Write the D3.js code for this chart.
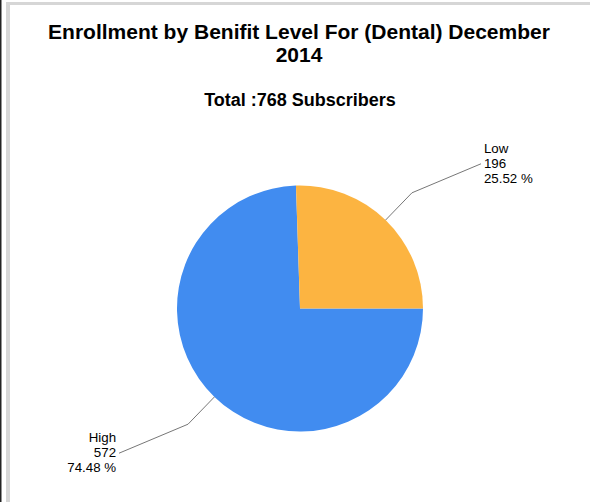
<!DOCTYPE html>
<html>
<head>
<meta charset="utf-8">
<script src="https://cdn.jsdelivr.net/npm/d3@7"></script>
<style>
  body { margin: 0; background: #fff; }
  #container { width: 590px; height: 502px; }
  text { font-family: "Liberation Sans", Arial, sans-serif; }
</style>
</head>
<body>
<div id="container"></div>
<script>
// chart data
const categories = ["High", "Low"];
const values = [572, 196];
const colors = ["#418CF0", "#FCB441"];
const titleLines = ["Enrollment by Benifit Level For (Dental) December", "2014"];

const canvas_w = 590, canvas_h = 502;
const cx = 300, cy = 308.5, radius = 123;

var svg = d3.select("#container")
    .append("svg")
    .attr("width", canvas_w)
    .attr("height", canvas_h);

// frame lines
svg.append("rect").attr("x", 0).attr("y", 0).attr("width", 1.5).attr("height", canvas_h).attr("fill", "#222");
svg.append("rect").attr("x", 6).attr("y", 2).attr("width", 4).attr("height", canvas_h).attr("fill", "#d6d6d6");
svg.append("rect").attr("x", 6).attr("y", 2).attr("width", canvas_w - 6).attr("height", 3).attr("fill", "#d6d6d6");

// titles
svg.selectAll("text.title")
    .data(titleLines)
    .enter()
    .append("text")
    .attr("class", "title")
    .attr("x", 299)
    .attr("y", (d, i) => 39 + i * 23)
    .attr("text-anchor", "middle")
    .attr("font-size", "21px")
    .attr("font-weight", "bold")
    .attr("fill", "#000")
    .text((d) => d);

const total = d3.sum(values);
svg.append("text")
    .attr("x", 300)
    .attr("y", 105.5)
    .attr("text-anchor", "middle")
    .attr("font-size", "18px")
    .attr("font-weight", "bold")
    .text("Total :" + total + " Subscribers");

// pie
const data = categories.map((c, i) => ({ name: c, value: values[i], color: colors[i] }));
const pie = d3.pie()
    .sort(null)
    .value((d) => d.value)
    .startAngle(Math.PI / 2)
    .endAngle(Math.PI / 2 + 2 * Math.PI);
const arcs = pie(data);

const arc = d3.arc().innerRadius(0).outerRadius(radius);
const g = svg.append("g").attr("transform", `translate(${cx},${cy})`);

g.selectAll("path")
    .data(arcs)
    .enter()
    .append("path")
    .attr("d", arc)
    .attr("fill", (d) => d.data.color);

// leader lines and labels
const edgeArc = d3.arc().innerRadius(radius).outerRadius(radius);
const elbowArc = d3.arc().innerRadius(161).outerRadius(161);

arcs.forEach((d) => {
    const p1 = edgeArc.centroid(d);
    const p2 = elbowArc.centroid(d);
    const side = p2[0] > 0 ? 1 : -1;
    const p3 = [p2[0] + side * 69, p2[1] - side * 29];

    g.append("polyline")
        .attr("points", [p1, p2, p3].map((p) => p.join(",")).join(" "))
        .attr("fill", "none")
        .attr("stroke", "#777")
        .attr("stroke-width", 1);

    const pct = (d.data.value / total * 100).toFixed(2) + " %";
    const lines = [d.data.name, String(d.data.value), pct];
    g.append("text")
        .attr("x", p3[0] + side * 3)
        .attr("y", p3[1] + 4 - 15)
        .attr("text-anchor", side > 0 ? "start" : "end")
        .attr("font-size", "13.3px")
        .attr("fill", "#000")
        .selectAll("tspan")
        .data(lines)
        .enter()
        .append("tspan")
        .attr("x", p3[0] + side * 3)
        .attr("dy", (t, i) => i === 0 ? 0 : 15)
        .text((t) => t);
});
</script>
</body>
</html>
